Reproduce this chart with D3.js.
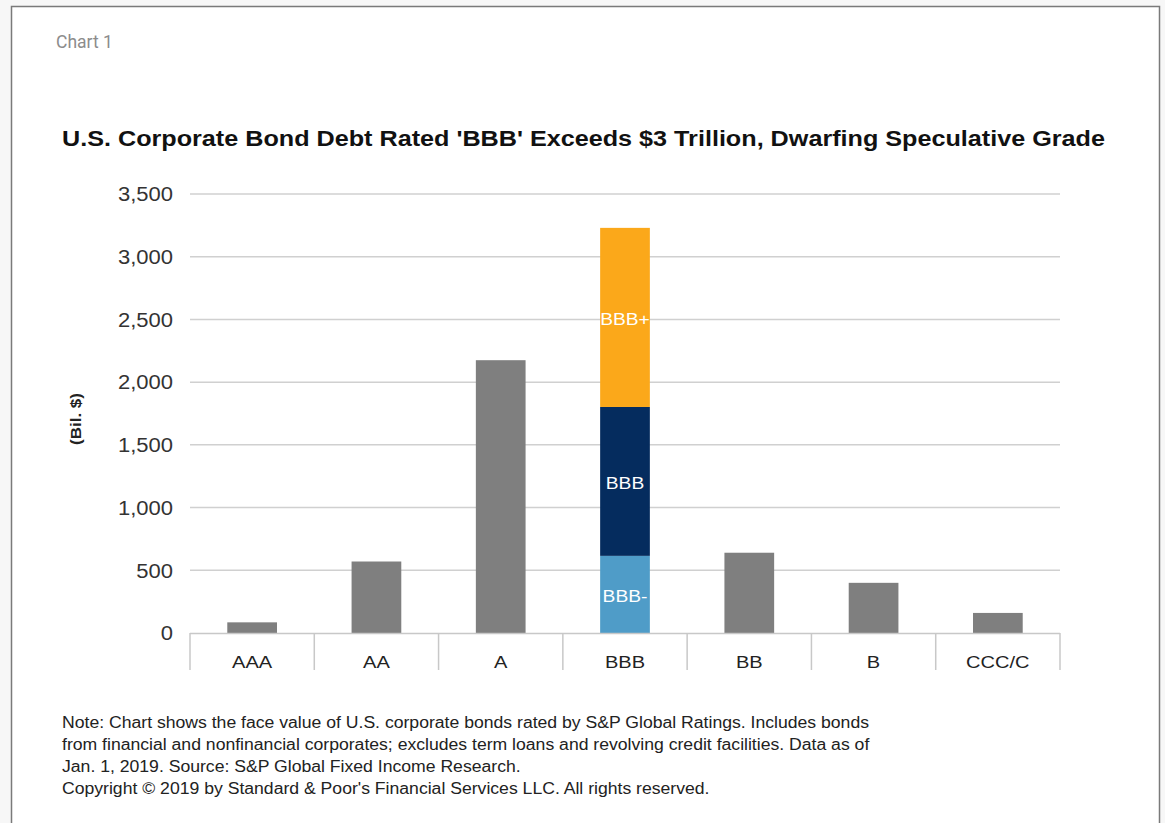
<!DOCTYPE html>
<html><head><meta charset="utf-8">
<script src="https://cdn.jsdelivr.net/npm/d3@7"></script>
<style>html,body{margin:0;padding:0;background:#f7f7f7;}svg{display:block;}</style>
</head><body>
<svg id="c" width="1165" height="823"></svg>
<script>
const categories = ["AAA","AA","A","BBB","BB","B","CCC/C"];
const totals = [85, 570, 2175, null, 640, 400, 160];
const bbbSegments = ["BBB-","BBB","BBB+"];
const bbbValues = [615, 1187, 1428];
const segColors = ["#4f9cc8","#052c5e","#fba81a"];
const yTicks = [0,500,1000,1500,2000,2500,3000,3500];
const noteLines = [
 "Note: Chart shows the face value of U.S. corporate bonds rated by S&P Global Ratings. Includes bonds",
 "from financial and nonfinancial corporates; excludes term loans and revolving credit facilities. Data as of",
 "Jan. 1, 2019. Source: S&P Global Fixed Income Research.",
 "Copyright \u00A9 2019 by Standard & Poor's Financial Services LLC. All rights reserved."
];

const svg = d3.select("#c");
const font = "'Liberation Sans', Arial, sans-serif";
function stretch(sel, k){
  sel.each(function(){
    const w = this.getComputedTextLength();
    d3.select(this).attr("textLength", w*k).attr("lengthAdjust","spacingAndGlyphs");
  });
}

svg.append("rect").attr("x",11.5).attr("y",6.5).attr("width",1148).attr("height",830)
  .attr("fill","#fff").attr("stroke","#7a7a7a").attr("stroke-width",1.5);

svg.append("text").attr("x",56).attr("y",48).text("Chart 1")
  .attr("font-family","Roboto, 'Open Sans', sans-serif").attr("font-size",17.5).attr("fill","#8c8c8c");

const title = svg.append("text").attr("x",62).attr("y",146)
  .text("U.S. Corporate Bond Debt Rated 'BBB' Exceeds $3 Trillion, Dwarfing Speculative Grade")
  .attr("font-family",font).attr("font-weight","bold").attr("font-size",22.5).attr("fill","#111");
title.attr("textLength", 1043).attr("lengthAdjust","spacingAndGlyphs");

const x = d3.scaleBand().domain(categories).range([190,1060]).paddingInner(0.6).paddingOuter(0.3);
const y = d3.scaleLinear().domain([0,3500]).range([633,194]);

// gridlines
svg.append("g").selectAll("line").data(yTicks.slice(1)).join("line")
  .attr("x1",190).attr("x2",1060).attr("y1",d=>y(d)).attr("y2",d=>y(d))
  .attr("stroke","#d0d0d0").attr("stroke-width",1.5);

// y axis
const ya = svg.append("g").attr("transform","translate(190,0)")
  .call(d3.axisLeft(y).tickValues(yTicks).tickFormat(d3.format(",")).tickSize(0).tickPadding(17));
ya.select(".domain").remove();
ya.selectAll("text").attr("font-family",font).attr("font-size",20).attr("fill","#333").attr("dy","0.34em");
stretch(ya.selectAll("text"), 1.1);

const yl = svg.append("text").attr("transform","translate(81,419) rotate(-90)").attr("text-anchor","middle")
  .text("(Bil. $)").attr("font-family",font).attr("font-weight","bold").attr("font-size",15).attr("fill","#222");
yl.attr("textLength", 52).attr("lengthAdjust","spacingAndGlyphs");

// bars
svg.append("g").selectAll("rect").data(categories.map((c,i)=>({c,v:totals[i]})).filter(d=>d.v!=null)).join("rect")
  .attr("x",d=>x(d.c)).attr("width",x.bandwidth()).attr("y",d=>y(d.v)).attr("height",d=>y(0)-y(d.v))
  .attr("fill","#7f7f7f");

const stack = [];
let acc = 0;
bbbValues.forEach((v,i)=>{stack.push({name:bbbSegments[i],y0:acc,y1:acc+v,color:segColors[i]}); acc+=v;});
const sg = svg.append("g");
sg.selectAll("rect").data(stack).join("rect")
  .attr("x",x("BBB")).attr("width",x.bandwidth()).attr("y",d=>y(d.y1)).attr("height",d=>y(d.y0)-y(d.y1))
  .attr("fill",d=>d.color);
const segT = sg.selectAll("text").data(stack).join("text")
  .attr("x",x("BBB")+x.bandwidth()/2).attr("y",d=>(y(d.y0)+y(d.y1))/2+8)
  .attr("text-anchor","middle").text(d=>d.name)
  .attr("font-family",font).attr("font-size",16).attr("fill","#fff");
stretch(segT, 1.2);

// x axis
svg.append("line").attr("x1",190).attr("x2",1060).attr("y1",633.5).attr("y2",633.5).attr("stroke","#c8c8c8").attr("stroke-width",1.5);
const bounds = categories.map(c=>x(c)-x.step()*x.paddingInner()/2);
bounds.push(1060);
svg.append("g").selectAll("line").data(bounds).join("line")
  .attr("x1",d=>d).attr("x2",d=>d).attr("y1",633).attr("y2",670).attr("stroke","#c8c8c8").attr("stroke-width",1.5);
const xl = svg.append("g").selectAll("text").data(categories).join("text")
  .attr("x",d=>x(d)+x.bandwidth()/2).attr("y",668).attr("text-anchor","middle").text(d=>d)
  .attr("font-family",font).attr("font-size",17).attr("fill","#222");
stretch(xl, 1.18);

// notes
const nt = svg.append("g").selectAll("text").data(noteLines).join("text")
  .attr("x",62).attr("y",(d,i)=>728+i*22).text(d=>d)
  .attr("font-family",font).attr("font-size",16).attr("fill","#222");
const w0 = nt.node().getComputedTextLength();
stretch(nt, 807/w0);
</script>
</body></html>
